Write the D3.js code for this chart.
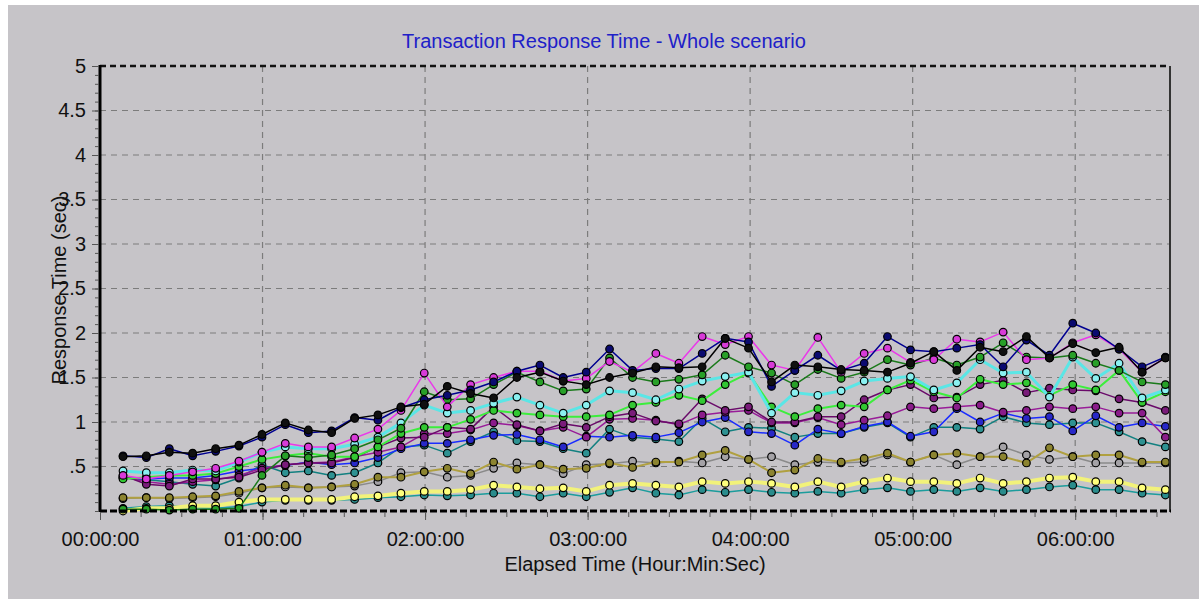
<!DOCTYPE html>
<html lang='en'>
<head>
<meta charset='utf-8'>
<script src='https://cdnjs.cloudflare.com/ajax/libs/d3/7.8.5/d3.min.js'></script>
<title>Transaction Response Time - Whole scenario</title>
<style>
body {
   margin:0;
   background:white;
   overflow:hidden;
}
text {
   font-family:'Liberation Sans', Arial, sans-serif;
}
</style>
</head>
<body>
<script>
// elapsed minutes of each sample
var times = [8.5, 17.1, 25.6, 34.2, 42.7, 51.3, 59.8, 68.4, 76.9, 85.5,
   94, 102.6, 111.1, 119.7, 128.2, 136.8, 145.3, 153.9, 162.4, 171,
   179.5, 188.1, 196.6, 205.2, 213.7, 222.3, 230.8, 239.4, 247.9, 256.5,
   265, 273.6, 282.1, 290.7, 299.2, 307.8, 316.3, 324.9, 333.4, 342,
   350.5, 359.1, 367.6, 376.2, 384.7, 393.3];

var blackVals = [0.61, 0.62, 0.66, 0.65, 0.70, 0.74, 0.86, 0.99, 0.91, 0.88,
   1.04, 1.08, 1.17, 1.20, 1.40, 1.32, 1.27, 1.50, 1.56, 1.46,
   1.42, 1.50, 1.55, 1.62, 1.61, 1.62, 1.94, 1.83, 1.45, 1.64,
   1.62, 1.59, 1.58, 1.56, 1.66, 1.79, 1.58, 1.84, 1.79, 1.96,
   1.72, 1.88, 1.78, 1.84, 1.56, 1.72];
var navyVals = [0.62, 0.60, 0.70, 0.62, 0.67, 0.73, 0.83, 0.97, 0.88, 0.90,
   1.05, 1.02, 1.16, 1.25, 1.30, 1.36, 1.45, 1.57, 1.64, 1.50,
   1.56, 1.82, 1.58, 1.60, 1.60, 1.77, 1.94, 1.90, 1.40, 1.58,
   1.75, 1.58, 1.66, 1.96, 1.81, 1.79, 1.83, 1.87, 1.62, 1.92,
   1.75, 2.11, 2.00, 1.82, 1.62, 1.73];
var magentaVals = [0.40, 0.36, 0.40, 0.44, 0.48, 0.56, 0.66, 0.76, 0.72, 0.72,
   0.82, 0.92, 1.13, 1.55, 1.17, 1.42, 1.50, 1.57, 1.57, 1.46,
   1.49, 1.68, 1.56, 1.77, 1.66, 1.96, 1.87, 1.96, 1.64, 1.58,
   1.95, 1.56, 1.77, 1.83, 1.67, 1.70, 1.93, 1.90, 2.01, 1.70,
   1.72, 1.89, 1.98, 1.82, 1.56, 1.72];
var darkGreenVals = [0.02, 0.02, 0.01, 0.02, 0.02, 0.03, 0.40, 0.62, 0.60, 0.63,
   0.70, 0.80, 0.93, 1.34, 1.25, 1.26, 1.42, 1.56, 1.45, 1.35,
   1.37, 1.72, 1.50, 1.45, 1.48, 1.53, 1.75, 1.62, 1.55, 1.42,
   1.59, 1.49, 1.56, 1.70, 1.64, 1.72, 1.64, 1.73, 1.89, 1.73,
   1.72, 1.75, 1.66, 1.58, 1.45, 1.42];
var cyanVals = [0.45, 0.43, 0.43, 0.46, 0.45, 0.55, 0.66, 0.72, 0.70, 0.70,
   0.75, 0.83, 0.99, 1.19, 1.10, 1.13, 1.21, 1.28, 1.19, 1.10,
   1.19, 1.35, 1.33, 1.25, 1.37, 1.46, 1.51, 1.56, 1.10, 1.33,
   1.30, 1.35, 1.46, 1.49, 1.51, 1.36, 1.44, 1.70, 1.55, 1.56,
   1.28, 1.73, 1.49, 1.66, 1.27, 1.36];
var greenVals = [0.36, 0.38, 0.40, 0.40, 0.42, 0.50, 0.58, 0.62, 0.65, 0.61,
   0.61, 0.72, 0.87, 0.94, 0.94, 1.03, 1.13, 1.10, 1.08, 1.06,
   1.06, 1.08, 1.19, 1.22, 1.30, 1.24, 1.42, 1.55, 1.17, 1.06,
   1.15, 1.19, 1.17, 1.36, 1.47, 1.34, 1.27, 1.48, 1.42, 1.44,
   1.30, 1.42, 1.36, 1.58, 1.22, 1.34];
var purpleVals = [0.40, 0.30, 0.28, 0.36, 0.36, 0.38, 0.46, 0.52, 0.54, 0.54,
   0.60, 0.72, 0.82, 0.83, 0.94, 0.92, 1.17, 0.97, 0.90, 0.98,
   0.94, 1.06, 1.10, 1.01, 0.98, 1.26, 1.13, 1.17, 1.00, 1.00,
   1.06, 1.06, 1.25, 1.36, 1.42, 1.27, 1.28, 1.42, 1.47, 1.33,
   1.38, 1.36, 1.35, 1.26, 1.22, 1.13];
var plumVals = [0.38, 0.33, 0.30, 0.33, 0.35, 0.40, 0.48, 0.52, 0.54, 0.55,
   0.61, 0.66, 0.72, 0.87, 0.87, 0.91, 0.99, 0.96, 0.90, 0.94,
   0.83, 1.03, 1.04, 1.02, 0.97, 1.08, 1.11, 1.13, 0.99, 0.99,
   1.05, 0.97, 1.02, 1.07, 1.17, 1.15, 1.17, 1.19, 1.11, 1.13,
   1.17, 1.15, 1.17, 1.10, 1.10, 0.83];
var blueVals = [0.38, 0.36, 0.37, 0.37, 0.40, 0.45, 0.48, 0.51, 0.55, 0.52,
   0.54, 0.60, 0.70, 0.76, 0.76, 0.80, 0.85, 0.86, 0.80, 0.72,
   0.84, 0.83, 0.85, 0.83, 0.88, 1.00, 1.05, 0.89, 0.87, 0.74,
   0.92, 0.87, 0.95, 1.00, 0.84, 0.89, 1.15, 1.00, 1.10, 1.04,
   1.06, 0.90, 1.07, 0.94, 0.99, 0.95];
var tealVals = [0.37, 0.35, 0.33, 0.30, 0.28, 0.37, 0.52, 0.43, 0.45, 0.40,
   0.43, 0.54, 0.72, 0.74, 0.65, 0.78, 0.89, 0.79, 0.78, 0.70,
   0.65, 0.92, 0.83, 0.81, 0.78, 1.04, 0.89, 0.94, 0.93, 0.83,
   0.87, 0.87, 0.94, 0.99, 0.83, 0.94, 0.94, 0.92, 1.06, 0.99,
   0.97, 0.99, 0.99, 0.89, 0.78, 0.72];
var oliveVals = [0.15, 0.15, 0.15, 0.16, 0.17, 0.22, 0.26, 0.29, 0.26, 0.27,
   0.30, 0.38, 0.38, 0.44, 0.48, 0.42, 0.55, 0.47, 0.52, 0.47,
   0.48, 0.54, 0.49, 0.55, 0.55, 0.63, 0.68, 0.58, 0.43, 0.46,
   0.59, 0.55, 0.59, 0.65, 0.55, 0.63, 0.65, 0.61, 0.61, 0.54,
   0.71, 0.61, 0.63, 0.63, 0.55, 0.55];
var grayVals = [0.14, 0.15, 0.14, 0.15, 0.16, 0.20, 0.26, 0.27, 0.26, 0.27,
   0.28, 0.33, 0.43, 0.44, 0.38, 0.40, 0.48, 0.54, 0.52, 0.42,
   0.52, 0.53, 0.56, 0.54, 0.56, 0.54, 0.61, 0.58, 0.61, 0.52,
   0.55, 0.54, 0.55, 0.63, 0.55, 0.63, 0.52, 0.61, 0.72, 0.63,
   0.58, 0.61, 0.54, 0.54, 0.54, 0.54];
var yellowVals = [0.00, 0.03, 0.03, 0.06, 0.06, 0.10, 0.13, 0.13, 0.13, 0.13,
   0.16, 0.17, 0.20, 0.22, 0.22, 0.24, 0.29, 0.27, 0.25, 0.26,
   0.22, 0.29, 0.31, 0.29, 0.27, 0.33, 0.31, 0.33, 0.31, 0.27,
   0.33, 0.27, 0.33, 0.37, 0.33, 0.33, 0.31, 0.37, 0.31, 0.33,
   0.37, 0.38, 0.33, 0.33, 0.26, 0.24];
var seaVals = [0.03, 0.05, 0.06, 0.04, 0.03, 0.05, 0.10, 0.12, 0.12, 0.12,
   0.13, 0.15, 0.16, 0.18, 0.17, 0.18, 0.20, 0.20, 0.16, 0.20,
   0.16, 0.21, 0.26, 0.20, 0.18, 0.24, 0.21, 0.24, 0.21, 0.20,
   0.22, 0.20, 0.24, 0.26, 0.22, 0.24, 0.22, 0.26, 0.22, 0.24,
   0.27, 0.29, 0.24, 0.24, 0.20, 0.18];

var yTickVals = [0.5, 1, 1.5, 2, 2.5, 3, 3.5, 4, 4.5, 5];
var yTickLabels = ['.5', '1', '1.5', '2', '2.5', '3', '3.5', '4', '4.5', '5'];
var xTickVals = [0, 60, 120, 180, 240, 300, 360];
var xTickLabels = ['00:00:00', '01:00:00', '02:00:00', '03:00:00', '04:00:00', '05:00:00', '06:00:00'];

// drawing order and look, bottom to top
var series = [
   {vals: seaVals, line: '#1c9c9c', w: 1.5, dot: '#2a8c8c'},
   {vals: yellowVals, line: '#f2f27a', w: 4, dot: '#ffff7c'},
   {vals: grayVals, line: '#8a8a8a', w: 1.5, dot: '#a4a2a6'},
   {vals: oliveVals, line: '#b0a040', w: 2, dot: '#8c8430'},
   {vals: tealVals, line: '#128080', w: 1.5, dot: '#2e9292'},
   {vals: blueVals, line: '#1a2cff', w: 1.5, dot: '#2828c8'},
   {vals: plumVals, line: '#981c98', w: 1.5, dot: '#8a1c8a'},
   {vals: purpleVals, line: '#6a0a6a', w: 1.5, dot: '#7a1c7a'},
   {vals: greenVals, line: '#3cee3c', w: 2, dot: '#32c832'},
   {vals: cyanVals, line: '#5ae6e6', w: 3, dot: '#8af0f0'},
   {vals: darkGreenVals, line: '#1a7a1a', w: 1.5, dot: '#28a028'},
   {vals: magentaVals, line: '#ea38ea', w: 1.5, dot: '#d83ad8'},
   {vals: navyVals, line: '#000090', w: 1.5, dot: '#0a0a70'},
   {vals: blackVals, line: '#000000', w: 1.5, dot: '#101010'}
];

var W = 1199, H = 599;
var svg = d3.select('body').append('svg').attr('width', W).attr('height', H);
svg.append('rect').attr('x', 8).attr('y', 5).attr('width', W - 8).attr('height', H - 5).style('fill', '#c6c4c8');

var x = d3.scaleLinear().domain([0, 395]).range([100, 1170]);
var y = d3.scaleLinear().domain([0, 5]).range([511, 66]);

// grid
var grid = svg.append('g');
grid.selectAll('.hgrid').data(yTickVals.slice(0, -1)).enter().append('line')
   .attr('x1', 100).attr('x2', 1170)
   .attr('y1', function(d){return y(d);}).attr('y2', function(d){return y(d);})
   .style('stroke', '#7c7c7c').style('stroke-width', 1.2).style('stroke-dasharray', '6,5');
grid.selectAll('.vgrid').data(xTickVals.slice(1)).enter().append('line')
   .attr('x1', function(d){return x(d);}).attr('x2', function(d){return x(d);})
   .attr('y1', 66).attr('y2', 511)
   .style('stroke', '#7c7c7c').style('stroke-width', 1.2).style('stroke-dasharray', '6,5');

// series
var plot = svg.append('g');
series.forEach(function(s) {
   var pts = times.map(function(t, i){return [t, s.vals[i]];});
   var ln = d3.line().defined(function(d){return d[1] != null;})
      .x(function(d){return x(d[0]);}).y(function(d){return y(d[1]);});
   plot.append('path').datum(pts).attr('d', ln)
      .style('fill', 'none').style('stroke', s.line).style('stroke-width', s.w)
      .style('stroke-linejoin', 'round');
   plot.append('g').selectAll('circle').data(pts.filter(function(d){return d[1] != null;}))
      .enter().append('circle')
      .attr('cx', function(d){return x(d[0]);}).attr('cy', function(d){return y(d[1]);})
      .attr('r', 3.8)
      .style('fill', s.dot).style('stroke', '#000').style('stroke-width', 1.2);
});

// frame
svg.append('line').attr('x1', 100).attr('x2', 1170).attr('y1', 66).attr('y2', 66)
   .style('stroke', '#111').style('stroke-width', 2.5).style('stroke-dasharray', '6,4');
svg.append('line').attr('x1', 1170).attr('x2', 1170).attr('y1', 66).attr('y2', 512)
   .style('stroke', '#333').style('stroke-width', 2);
svg.append('line').attr('x1', 100).attr('x2', 1171).attr('y1', 511).attr('y2', 511)
   .style('stroke', '#000').style('stroke-width', 3).style('stroke-dasharray', '7,3');
svg.append('line').attr('x1', 100).attr('x2', 100).attr('y1', 65).attr('y2', 512)
   .style('stroke', '#000').style('stroke-width', 3);

// y axis
var yMinor = svg.append('g').attr('transform', 'translate(99,0)')
   .call(d3.axisLeft(y).tickValues(d3.range(0, 5.001, 0.1)).tickSize(4).tickFormat(''));
var yAxis = svg.append('g').attr('transform', 'translate(99,0)')
   .call(d3.axisLeft(y).tickValues(yTickVals).tickSize(7).tickPadding(6)
   .tickFormat(function(d, i){return yTickLabels[i];}));
[yMinor, yAxis].forEach(function(g) {
   g.select('.domain').remove();
   g.selectAll('line').style('stroke', '#555');
});
yAxis.selectAll('text').style('font-size', '20px').style('fill', '#111')
   .style('font-family', "'Liberation Sans', Arial, sans-serif");

// x axis
var xMinor = svg.append('g').attr('transform', 'translate(0,512)')
   .call(d3.axisBottom(x).tickValues(d3.range(0, 395, 15)).tickSize(5).tickFormat(''));
var xAxis = svg.append('g').attr('transform', 'translate(0,512)')
   .call(d3.axisBottom(x).tickValues(xTickVals).tickSize(8).tickPadding(12)
   .tickFormat(function(d, i){return xTickLabels[i];}));
[xMinor, xAxis].forEach(function(g) {
   g.select('.domain').remove();
   g.selectAll('line').style('stroke', '#555');
});
xAxis.selectAll('text').style('font-size', '20px').style('fill', '#111')
   .style('font-family', "'Liberation Sans', Arial, sans-serif");

// titles
svg.append('text').attr('x', 604).attr('y', 48).attr('text-anchor', 'middle')
   .style('font-size', '20px').style('fill', '#2020c8')
   .text('Transaction Response Time - Whole scenario');
svg.append('text').attr('x', 635).attr('y', 571).attr('text-anchor', 'middle')
   .style('font-size', '20px').style('fill', '#111')
   .text('Elapsed Time (Hour:Min:Sec)');
svg.append('text').attr('transform', 'translate(66,290) rotate(-90)').attr('text-anchor', 'middle')
   .style('font-size', '20px').style('fill', '#111')
   .text('Response Time (sec)');
</script>
</body>
</html>
